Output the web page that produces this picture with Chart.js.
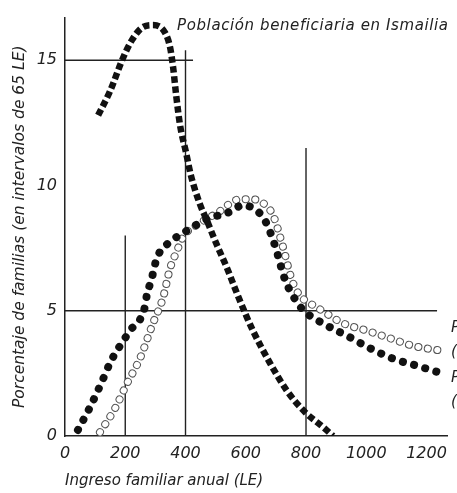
<!DOCTYPE html>
<html>
<head>
<meta charset="utf-8">
<script src="https://cdn.jsdelivr.net/npm/chart.js@4.4.1/dist/chart.umd.min.js"></script>
<style>
  body { margin: 0; background: #fff; }
</style>
</head>
<body>
<canvas id="incomeChart" width="457" height="493"></canvas>
<script>
// Población beneficiaria en Ismailia (square dotted curve)
const poblacionX = [110, 149, 193, 222, 256, 292, 332, 349, 359, 369, 382, 402, 418, 448, 471, 505, 538, 564, 598, 624, 681, 737, 797, 857, 890];
const poblacionY = [12.8, 13.75, 15.1, 15.8, 16.3, 16.4, 16.1, 15.5, 14.7, 13.6, 12.4, 11.3, 10.4, 9.25, 8.6, 7.6, 6.7, 5.9, 4.9, 4.2, 2.9, 1.8, 0.95, 0.35, 0];

// filled circles curve
const llenoX = [43, 83, 120, 153, 199, 222, 249, 266, 272, 286, 305, 355, 392, 471, 548, 588, 624, 664, 697, 730, 764, 793, 863, 936, 1013, 1086, 1169, 1252];
const llenoY = [0.24, 1.15, 2.1, 3.0, 3.9, 4.3, 4.65, 5.2, 5.65, 6.2, 7.1, 7.8, 8.1, 8.65, 8.95, 9.2, 9.1, 8.6, 7.6, 6.25, 5.45, 5.0, 4.45, 4.0, 3.5, 3.1, 2.8, 2.5];

// open circles curve
const vacioX = [116, 166, 206, 249, 292, 325, 349, 372, 392, 448, 505, 581, 621, 657, 691, 720, 754, 780, 813, 847, 923, 1003, 1079, 1155, 1252];
const vacioY = [0.15, 1.1, 2.1, 3.1, 4.5, 5.5, 6.7, 7.4, 7.95, 8.5, 8.9, 9.45, 9.45, 9.3, 8.8, 7.7, 6.2, 5.6, 5.3, 5.05, 4.5, 4.2, 3.9, 3.6, 3.4];

// partial reference lines
const hLineY = [15, 5];
const hLineEnd = [425, 1235];
const vLineX = [200, 400, 800];
const vLineTop = [8.0, 15.4, 11.5];

const xTicks = [0, 200, 400, 600, 800, 1000, 1200];
const yTicks = [0, 5, 10, 15];

const toPoints = (xs, ys) => xs.map((x, i) => ({ x: x, y: ys[i] }));

const lineColor = '#222';
const tickFont = { family: 'DejaVu Sans', style: 'italic', size: 16 };

const guideSets = [];
hLineY.forEach((y, i) => {
    guideSets.push({
        data: [{ x: 0, y: y }, { x: hLineEnd[i], y: y }],
        borderColor: lineColor, borderWidth: 1.4, pointRadius: 0, order: 10
    });
});
vLineX.forEach((x, i) => {
    guideSets.push({
        data: [{ x: x, y: 0 }, { x: x, y: vLineTop[i] }],
        borderColor: lineColor, borderWidth: 1.4, pointRadius: 0, order: 10
    });
});

const textPlugin = {
    id: 'textos',
    afterDraw(chart) {
        const ctx = chart.ctx;
        const xs = chart.scales.x, ys = chart.scales.y;
        ctx.save();
        ctx.fillStyle = '#222';
        ctx.font = 'italic 15px "DejaVu Sans"';
        ctx.letterSpacing = '0.6px';
        ctx.textBaseline = 'middle';
        ctx.textAlign = 'left';
        ctx.fillText('Población beneficiaria en Ismailia', xs.getPixelForValue(372), ys.getPixelForValue(16.35));
        // cut-off legend at the right edge
        const rx = chart.width - 6;
        ctx.fillText('Población', rx, ys.getPixelForValue(4.3));
        ctx.fillText('(total)', rx, ys.getPixelForValue(3.35));
        ctx.fillText('Población', rx, ys.getPixelForValue(2.3));
        ctx.fillText('(total)', rx, ys.getPixelForValue(1.35));
        ctx.restore();
    }
};

const ctx = document.getElementById('incomeChart');
new Chart(ctx, {
    type: 'line',
    data: {
        datasets: [
            ...guideSets,
            {
                data: toPoints(vacioX, vacioY),
                borderColor: '#555', borderWidth: 8,
                borderDash: [0.1, 9.5], borderCapStyle: 'round',
                cubicInterpolationMode: 'monotone', pointRadius: 0, order: 5
            },
            {
                data: toPoints(vacioX, vacioY),
                borderColor: '#fff', borderWidth: 6,
                borderDash: [0.1, 9.5], borderCapStyle: 'round',
                cubicInterpolationMode: 'monotone', pointRadius: 0, order: 4
            },
            {
                data: toPoints(llenoX, llenoY),
                borderColor: '#111', borderWidth: 8,
                borderDash: [0.1, 11.5], borderCapStyle: 'round',
                cubicInterpolationMode: 'monotone', pointRadius: 0, order: 2
            },
            {
                data: toPoints(poblacionX, poblacionY),
                borderColor: '#111', borderWidth: 6.5,
                borderDash: [6.5, 3.5], borderCapStyle: 'butt',
                cubicInterpolationMode: 'monotone', pointRadius: 0, order: 1
            }
        ]
    },
    options: {
        responsive: false,
        animation: false,
        layout: { padding: { top: 13, right: 10, left: 0, bottom: 0 } },
        plugins: {
            legend: { display: false },
            tooltip: { enabled: false }
        },
        scales: {
            x: {
                type: 'linear',
                min: 0,
                max: 1268,
                afterFit: (s) => { s.height = 57; },
                afterBuildTicks: (s) => { s.ticks = xTicks.map(v => ({ value: v })); },
                grid: { display: false, drawTicks: false },
                border: { display: true, color: lineColor, width: 1.5 },
                ticks: { color: '#222', font: tickFont, padding: 8, maxRotation: 0, callback: (v) => String(v) },
                title: {
                    display: true,
                    text: 'Ingreso familiar anual (LE)',
                    align: 'start',
                    color: '#222',
                    font: { family: 'DejaVu Sans', style: 'italic', size: 15 },
                    padding: { top: 0, bottom: 3 }
                }
            },
            y: {
                min: 0,
                max: 16.7,
                afterFit: (s) => { s.width = 65; },
                afterBuildTicks: (s) => { s.ticks = yTicks.map(v => ({ value: v })); },
                grid: { display: false, drawTicks: false },
                border: { display: true, color: lineColor, width: 1.5 },
                ticks: { color: '#222', font: tickFont, padding: 8, callback: (v) => String(v) },
                title: {
                    display: true,
                    text: 'Porcentaje de familias (en intervalos de 65 LE)',
                    color: '#222',
                    font: { family: 'DejaVu Sans', style: 'italic', size: 15.5 },
                    padding: { top: 11, bottom: 0 }
                }
            }
        }
    },
    plugins: [textPlugin]
});
</script>
</body>
</html>
